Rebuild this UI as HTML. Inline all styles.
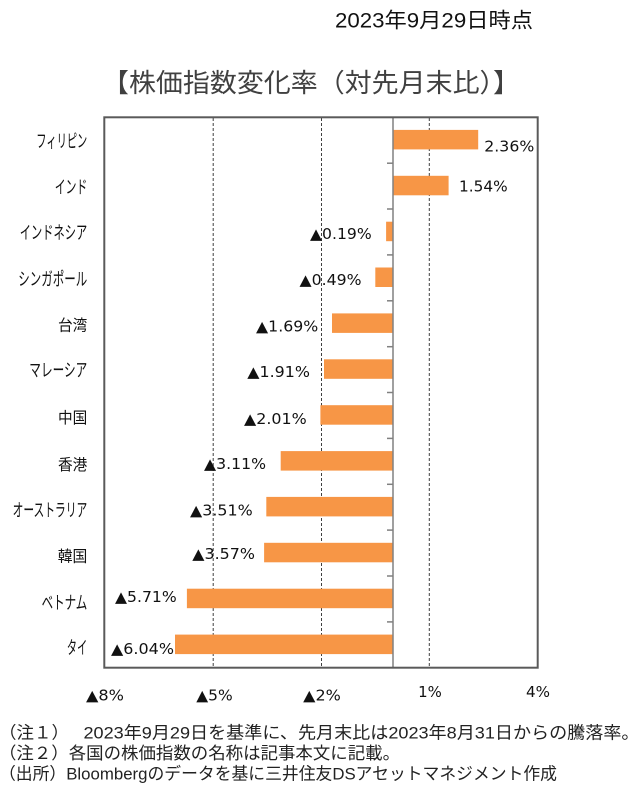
<!DOCTYPE html>
<html>
<head>
<meta charset="utf-8">
<style>
html,body{margin:0;padding:0;background:#fff;}
svg{display:block;}
.jp{font-family:"Liberation Sans","Noto Sans CJK JP",sans-serif;}
.num{font-family:"DejaVu Sans","Liberation Sans",sans-serif;}
</style>
</head>
<body>
<svg width="640" height="811" viewBox="0 0 640 811" xmlns="http://www.w3.org/2000/svg">
<rect x="0" y="0" width="640" height="811" fill="#fff"/>

<!-- date -->
<text class="jp" x="335" y="27.5" font-size="21" fill="#111" textLength="198" lengthAdjust="spacingAndGlyphs">2023年9月29日時点</text>

<!-- title -->
<text class="jp" x="311" y="92" font-size="26" fill="#404040" text-anchor="middle" textLength="418" lengthAdjust="spacingAndGlyphs">【株価指数変化率（対先月末比）】</text>

<!-- gridlines -->
<g stroke="#404040" stroke-width="1" stroke-dasharray="3,2">
<line x1="213.2" y1="118" x2="213.2" y2="667"/>
<line x1="321.5" y1="118" x2="321.5" y2="667"/>
<line x1="429.3" y1="118" x2="429.3" y2="667"/>
</g>

<!-- bars -->
<g fill="#F79646">
<rect x="393" y="129.9" width="85.2" height="19.5"/>
<rect x="393" y="175.8" width="55.6" height="19.5"/>
<rect x="386.1" y="221.7" width="6.9" height="19.5"/>
<rect x="375.3" y="267.5" width="17.7" height="19.5"/>
<rect x="332.0" y="313.4" width="61.0" height="19.5"/>
<rect x="324.0" y="359.3" width="69.0" height="19.5"/>
<rect x="320.4" y="405.2" width="72.6" height="19.5"/>
<rect x="280.7" y="451.1" width="112.3" height="19.5"/>
<rect x="266.3" y="496.9" width="126.7" height="19.5"/>
<rect x="264.1" y="542.8" width="128.9" height="19.5"/>
<rect x="186.9" y="588.7" width="206.1" height="19.5"/>
<rect x="175.0" y="634.6" width="218.0" height="19.5"/>
</g>

<!-- zero axis and ticks -->
<g stroke="#808080" stroke-width="1.5">
<line x1="393" y1="117" x2="393" y2="668"/>
<line x1="387" y1="163.2" x2="393" y2="163.2"/>
<line x1="387" y1="209.0" x2="393" y2="209.0"/>
<line x1="387" y1="254.9" x2="393" y2="254.9"/>
<line x1="387" y1="300.8" x2="393" y2="300.8"/>
<line x1="387" y1="346.7" x2="393" y2="346.7"/>
<line x1="387" y1="392.5" x2="393" y2="392.5"/>
<line x1="387" y1="438.4" x2="393" y2="438.4"/>
<line x1="387" y1="484.3" x2="393" y2="484.3"/>
<line x1="387" y1="530.1" x2="393" y2="530.1"/>
<line x1="387" y1="576.0" x2="393" y2="576.0"/>
<line x1="387" y1="621.9" x2="393" y2="621.9"/>
</g>

<!-- plot border -->
<rect x="104.3" y="117.3" width="433.4" height="550.4" fill="none" stroke="#5a5a5a" stroke-width="2"/>

<!-- category labels -->
<g class="jp" fill="#111" text-anchor="end">
<text x="87.3" y="147.4" font-size="18" textLength="51" lengthAdjust="spacingAndGlyphs">フィリピン</text>
<text x="87.3" y="193.4" font-size="18" textLength="32.5" lengthAdjust="spacingAndGlyphs">インド</text>
<text x="87.3" y="239.1" font-size="18" textLength="67.5" lengthAdjust="spacingAndGlyphs">インドネシア</text>
<text x="87.3" y="285.5" font-size="18" textLength="69" lengthAdjust="spacingAndGlyphs">シンガポール</text>
<text x="87.3" y="330.5" font-size="15.5" textLength="29.3" lengthAdjust="spacingAndGlyphs">台湾</text>
<text x="87.3" y="376.7" font-size="18" textLength="58" lengthAdjust="spacingAndGlyphs">マレーシア</text>
<text x="87.3" y="423" font-size="15.5" textLength="29.3" lengthAdjust="spacingAndGlyphs">中国</text>
<text x="87.3" y="469.8" font-size="15.5" textLength="29.3" lengthAdjust="spacingAndGlyphs">香港</text>
<text x="87.3" y="516.5" font-size="18" textLength="74.7" lengthAdjust="spacingAndGlyphs">オーストラリア</text>
<text x="87.3" y="561.5" font-size="15.5" textLength="29.6" lengthAdjust="spacingAndGlyphs">韓国</text>
<text x="87.3" y="608.9" font-size="18" textLength="45.7" lengthAdjust="spacingAndGlyphs">ベトナム</text>
<text x="87.3" y="653.9" font-size="18" textLength="20.5" lengthAdjust="spacingAndGlyphs">タイ</text>
</g>

<!-- data labels -->
<g class="num" font-size="15" fill="#111">
<text x="484.3" y="151.5" textLength="50" lengthAdjust="spacingAndGlyphs">2.36%</text>
<text x="459" y="191.5" textLength="48.7" lengthAdjust="spacingAndGlyphs">1.54%</text>
<text x="310" y="238.8" textLength="61.7" lengthAdjust="spacingAndGlyphs">▲0.19%</text>
<text x="299.5" y="284.8" textLength="62" lengthAdjust="spacingAndGlyphs">▲0.49%</text>
<text x="256" y="331.5" textLength="62.3" lengthAdjust="spacingAndGlyphs">▲1.69%</text>
<text x="247.3" y="377.2" textLength="62.7" lengthAdjust="spacingAndGlyphs">▲1.91%</text>
<text x="244" y="423.8" textLength="62.7" lengthAdjust="spacingAndGlyphs">▲2.01%</text>
<text x="204" y="468.8" textLength="62" lengthAdjust="spacingAndGlyphs">▲3.11%</text>
<text x="190" y="515.5" textLength="62.7" lengthAdjust="spacingAndGlyphs">▲3.51%</text>
<text x="192.3" y="558.8" textLength="62.7" lengthAdjust="spacingAndGlyphs">▲3.57%</text>
<text x="115" y="602.2" textLength="61.7" lengthAdjust="spacingAndGlyphs">▲5.71%</text>
<text x="111" y="653.8" textLength="63" lengthAdjust="spacingAndGlyphs">▲6.04%</text>
</g>

<!-- x axis labels -->
<g class="num" font-size="15" fill="#111" text-anchor="middle">
<text x="105" y="700.5" textLength="38" lengthAdjust="spacingAndGlyphs">▲8%</text>
<text x="214.5" y="700.5" textLength="36.5" lengthAdjust="spacingAndGlyphs">▲5%</text>
<text x="322" y="700.5" textLength="37.7" lengthAdjust="spacingAndGlyphs">▲2%</text>
<text x="430" y="697.2" textLength="23.7" lengthAdjust="spacingAndGlyphs">1%</text>
<text x="538" y="697.2" textLength="24" lengthAdjust="spacingAndGlyphs">4%</text>
</g>

<!-- footnotes -->
<g class="jp" font-size="17" fill="#222">
<text x="-1" y="738.5" textLength="70" lengthAdjust="spacingAndGlyphs">（注１）</text>
<text x="83.5" y="738.5" textLength="556" lengthAdjust="spacingAndGlyphs">2023年9月29日を基準に、先月末比は2023年8月31日からの騰落率。</text>
<text x="-1" y="759" textLength="401" lengthAdjust="spacingAndGlyphs">（注２）各国の株価指数の名称は記事本文に記載。</text>
<text x="-1" y="779.5" textLength="558" lengthAdjust="spacingAndGlyphs">（出所）Bloombergのデータを基に三井住友DSアセットマネジメント作成</text>
</g>
</svg>
</body>
</html>
